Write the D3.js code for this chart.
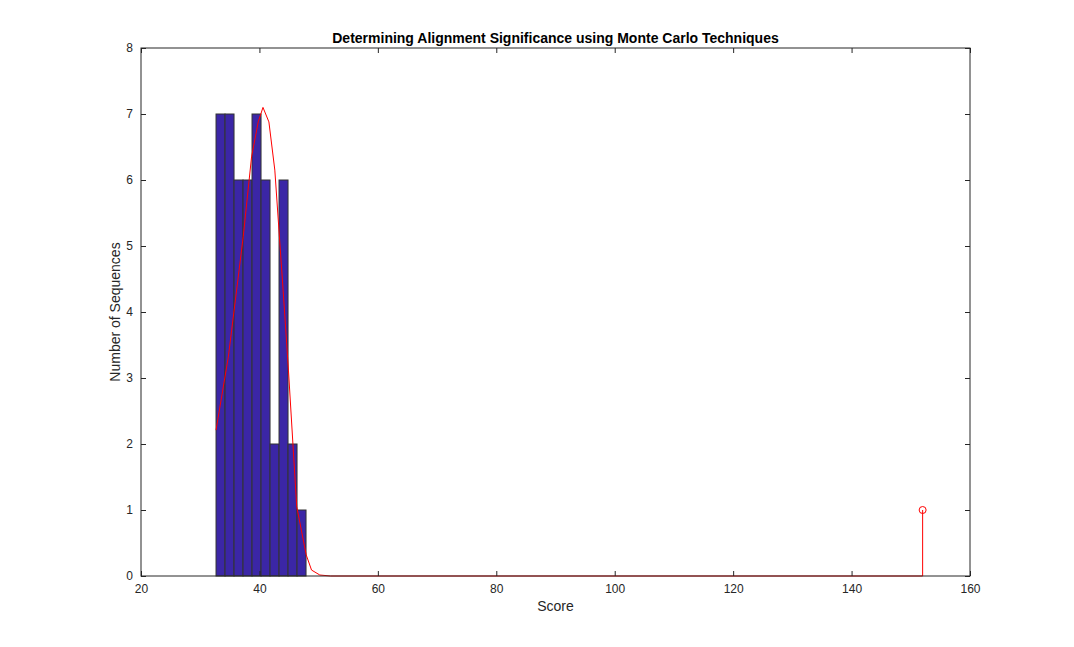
<!DOCTYPE html><html><head><script src="https://cdn.jsdelivr.net/npm/d3@7"></script>
<style>body{margin:0;background:#fff}svg{font-family:"Liberation Sans",Arial,sans-serif}</style></head><body><svg id="c" width="1074" height="647"></svg>
<script>
const binStart=32.67, binWidth=1.52;
const counts=[7,7,6,6,7,6,2,6,2,1];
const curveX=[32.67,34.75,37.26,38.67,39.8,40.6,41.6,42.6,44.0,44.9,46.3,47.9,48.8,50.2,52,152];
const curveY=[2.21,3.32,5.14,6.35,6.88,7.1,6.88,6.15,4.33,3.12,1.05,0.32,0.09,0.015,0,0];
const stemX=[152], stemY=[1];
const xTicks=[20,40,60,80,100,120,140,160], yTicks=[0,1,2,3,4,5,6,7,8];
const svg=d3.select("#c");
const L=141,R=970,T=48,B=576;
const x=d3.scaleLinear().domain([20,160]).range([L,R]);
const y=d3.scaleLinear().domain([0,8]).range([B,T]);
svg.append("rect").attr("x",L).attr("y",T).attr("width",R-L).attr("height",B-T).attr("fill","#fff");
svg.selectAll(".b").data(counts).join("rect").attr("x",(d,i)=>x(binStart+i*binWidth)).attr("width",x(binWidth)-x(0))
 .attr("y",d=>y(d)).attr("height",d=>B-y(d)).attr("fill","#3b26a6").attr("stroke","#333").attr("stroke-width",1);
svg.append("path").datum(curveX.map((v,i)=>[v,curveY[i]])).attr("d",d3.line().x(d=>x(d[0])).y(d=>y(d[1]))).attr("fill","none").attr("stroke","red").attr("stroke-width",1);
stemX.forEach((v,i)=>{svg.append("line").attr("x1",x(v)).attr("x2",x(v)).attr("y1",y(0)).attr("y2",y(stemY[i])).attr("stroke","red");
 svg.append("circle").attr("cx",x(v)).attr("cy",y(stemY[i])).attr("r",3.5).attr("fill","none").attr("stroke","red");});
const ax=(g,a)=>{g.call(a);g.select(".domain").remove();g.selectAll("line").attr("stroke","#262626");g.selectAll("text").attr("fill","#262626").attr("font-size",12);};
ax(svg.append("g").attr("transform",`translate(0,${B})`),d3.axisBottom(x).tickValues(xTicks).tickSize(-5).tickPadding(8));
ax(svg.append("g").attr("transform",`translate(0,${T})`),d3.axisTop(x).tickValues(xTicks).tickSize(-5).tickFormat(""));
ax(svg.append("g").attr("transform",`translate(${L},0)`),d3.axisLeft(y).tickValues(yTicks).tickSize(-5).tickPadding(8));
ax(svg.append("g").attr("transform",`translate(${R},0)`),d3.axisRight(y).tickValues(yTicks).tickSize(-5).tickFormat(""));
svg.append("rect").attr("x",L).attr("y",T).attr("width",R-L).attr("height",B-T).attr("fill","none").attr("stroke","#262626");
svg.append("text").attr("x",(L+R)/2).attr("y",43).attr("text-anchor","middle").attr("font-weight","bold").attr("font-size",14).attr("fill","#000").text("Determining Alignment Significance using Monte Carlo Techniques");
svg.append("text").attr("x",(L+R)/2).attr("y",611).attr("text-anchor","middle").attr("font-size",14).attr("fill","#262626").text("Score");
svg.append("text").attr("transform",`translate(120,${(T+B)/2}) rotate(-90)`).attr("text-anchor","middle").attr("font-size",14).attr("fill","#262626").text("Number of Sequences");
</script></body></html>
